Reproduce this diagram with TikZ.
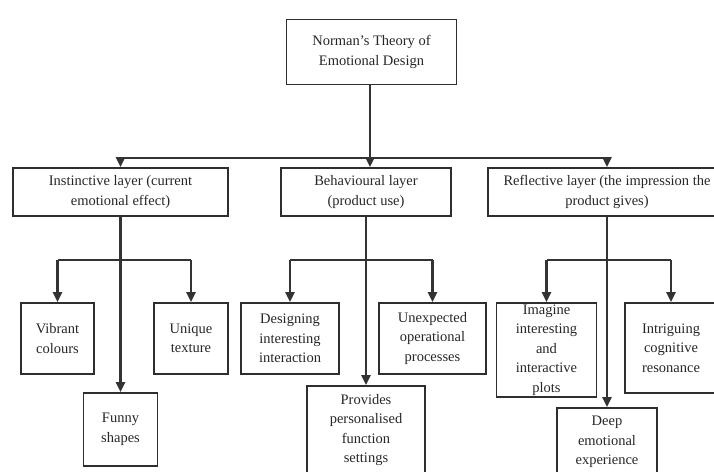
\documentclass[tikz,border=0pt]{standalone}
\usepackage{fontspec}
\setmainfont{Liberation Serif}
\usetikzlibrary{arrows.meta}

\begin{document}
\begin{tikzpicture}[x=1pt,y=-1pt,
  box/.style={draw=black!82,line width=1.8pt,align=center,inner sep=0pt,
    font=\fontsize{14.5}{19.5}\selectfont,text=black!85},
  link/.style={draw=black!80,line width=2.2pt},
  conn/.style={link,-{Triangle[length=10pt,width=9pt]}}]

\useasboundingbox (0,0) rectangle (714,471);

% Root
\node[box,minimum width=170,minimum height=65] (root) at (371.5,52)
  {Norman's Theory of\\Emotional Design};

% Layers
\node[box,minimum width=215,minimum height=48] (instinct) at (120.5,192)
  {Instinctive layer (current\\emotional effect)};
\node[box,minimum width=170,minimum height=48] (behav) at (366,192)
  {Behavioural layer\\(product use)};
\node[box,minimum width=238,minimum height=48] (reflect) at (607,192)
  {Reflective layer (the impression the\\product gives)};

% Instinctive items
\node[box,minimum width=73,minimum height=71] (vibrant) at (57.5,338.5)
  {Vibrant\\colours};
\node[box,minimum width=74,minimum height=71] (texture) at (191,338.5)
  {Unique\\texture};
\node[box,minimum width=74,minimum height=73] (funny) at (120.5,429.5)
  {Funny\\shapes};

% Behavioural items
\node[box,minimum width=98,minimum height=71] (interact) at (290,338.5)
  {Designing\\interesting\\interaction};
\node[box,minimum width=107,minimum height=71] (process) at (432.5,338.5)
  {Unexpected\\operational\\processes};
\node[box,minimum width=118,minimum height=88] (settings) at (366,430)
  {Provides\\personalised\\function\\settings};

% Reflective items
\node[box,minimum width=100,minimum height=94] (plots) at (546.5,350)
  {Imagine\\interesting\\and\\interactive\\plots};
\node[box,minimum width=92,minimum height=90] (cognitive) at (671,348)
  {Intriguing\\cognitive\\resonance};
\node[box,minimum width=100,minimum height=68] (deep) at (607,442)
  {Deep\\emotional\\experience};

% Bars
\coordinate (topbar) at (370,158);
\coordinate (bar) at (0,260);

% Root to layers
\draw[conn] (root.south -| topbar) -- (behav.north -| topbar);
\draw[link] (instinct.north |- topbar) -- (reflect.north |- topbar);
\draw[conn] (instinct.north |- topbar) -- (instinct.north);
\draw[conn] (reflect.north |- topbar) -- (reflect.north);

% Layers to items
\foreach \lay/\l/\r/\d in {instinct/vibrant/texture/funny,
    behav/interact/process/settings, reflect/plots/cognitive/deep}{
  \draw[conn] (\lay.south) -- (\d.north);
  \draw[link] (\l.north |- bar) -- (\r.north |- bar);
  \draw[conn] (\l.north |- bar) -- (\l.north);
  \draw[conn] (\r.north |- bar) -- (\r.north);
}

\end{tikzpicture}
\end{document}
